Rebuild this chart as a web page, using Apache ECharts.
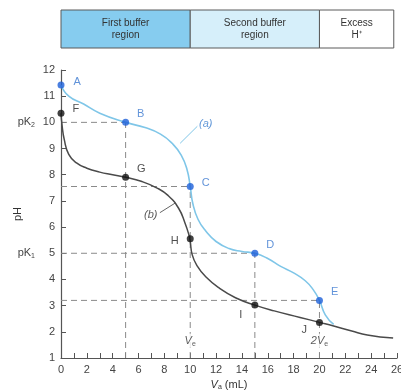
<!DOCTYPE html>
<html>
<head>
<meta charset="utf-8">
<script src="https://cdn.jsdelivr.net/npm/echarts@6/dist/echarts.min.js"></script>
<style>
  html, body { margin: 0; padding: 0; background: #fff; }
  #chart { width: 401px; height: 390px; }
</style>
</head>
<body>
<div id="chart"></div>
<script>
// Titration of a dibasic weak base with strong acid: pH vs. volume of acid added
const FONT = '"Liberation Sans", Arial, sans-serif';

// curve (a): pH vs Va (mL)
const curveA = [[0,11.43],[0.6,11.0],[1.75,10.7],[3,10.35],[5,10.0],[6.5,9.8],[7.7,9.55],[8.6,9.2],[9.3,8.75],[9.75,8.2],[10,7.55],[10.2,6.9],[10.6,6.3],[11.2,5.85],[12,5.45],[13,5.18],[14,5.07],[15,5.0],[16,4.8],[17,4.5],[18,4.25],[18.9,3.95],[19.5,3.62],[20,3.2],[20.45,2.65],[21.1,2.28]];
// curve (b)
const curveB = [[0,10.35],[0.08,9.9],[0.25,9.35],[0.6,8.78],[1.2,8.45],[2,8.25],[3,8.1],[4,8.0],[5,7.9],[6.2,7.75],[7.4,7.5],[8.3,7.2],[9.1,6.72],[9.6,6.15],[9.9,5.7],[10,5.45],[10.15,4.95],[10.5,4.55],[11.2,4.1],[12.3,3.65],[13.5,3.3],[15,3.02],[16.5,2.8],[18.5,2.55],[20,2.36],[21.1,2.22],[22.5,2.03],[23.7,1.88],[25.7,1.76]];

// labelled points
const pointsA = [['A',0,11.43],['B',5,10.0],['C',10,7.55],['D',15,5.0],['E',20,3.2]];
const pointsB = [['F',0,10.35],['G',5,7.9],['H',10,5.55],['I',15,3.02],['J',20,2.36]];

// header regions along the volume axis
const regions = [[0,10,'First buffer\nregion','#86ccef'],[10,20,'Second buffer\nregion','#d6effa'],[20,25.75,'Excess\nH\u207A','#ffffff']];

// curve name callouts: [label, label x, label y, leader from, leader to]
const callouts = [['(a)', 11.2, 9.93, [9.22,9.2],[10.55,9.85]], ['(b)', 6.95, 6.48, [7.65,6.55],[8.84,6.92]]];

// axis annotations
const volumeMarks = [['V','e',10,1.66],['2V','e',20,1.66]];

const guideStyle = { color: '#8a8a8a', width: 1, type: [6, 4] };

const series = [];

// dashed guides from the points of curve (a) to both axes
pointsA.slice(1).forEach(p => {
  series.push({ type: 'line', data: [[p[1],1],[p[1],p[2]]], symbol: 'none', lineStyle: guideStyle, silent: true, z: 1 });
  series.push({ type: 'line', data: [[0,p[2]],[p[1],p[2]]], symbol: 'none', lineStyle: guideStyle, silent: true, z: 1 });
});

series.push({ type: 'line', data: curveA, symbol: 'none', smooth: 0.5, lineStyle: { color: '#7fc6e8', width: 1.6 }, z: 2 });
series.push({ type: 'line', data: curveB, symbol: 'none', smooth: 0.5, lineStyle: { color: '#4a4a4a', width: 1.5 }, z: 3 });

callouts.forEach((c, i) => {
  series.push({ type: 'line', data: [c[3], c[4]], symbol: 'none', lineStyle: { color: i === 0 ? '#7fc6e8' : '#666', width: 1 }, z: 2 });
  series.push({ type: 'scatter', data: [[c[1], c[2]]], symbolSize: 0, z: 5,
    label: { show: true, position: 'inside', formatter: () => '{i|' + c[0] + '}',
      rich: { i: { fontFamily: FONT, fontSize: 11, fontStyle: 'italic', color: i === 0 ? '#3d7fd0' : '#333' } } } });
});

const labelPos = { A:[4,-3,'right'], B:[3,-8,'right'], C:[3,-4,'right'], D:[3,-8,'right'], E:[3,-8,'right'],
                   F:[3,-4,'right'], G:[3,-8,'right'], H:[-3,2,'left'], I:[-4,10,'left'], J:[-4,8,'left'] };

function pointSeries(pts, dot, txt) {
  return { type: 'scatter', z: 6, symbolSize: 7, itemStyle: { color: dot },
    data: pts.map(p => ({ value: [p[1], p[2]], name: p[0],
      label: { show: true, position: labelPos[p[0]][2], offset: [labelPos[p[0]][0], labelPos[p[0]][1]],
        formatter: p[0], color: txt, fontFamily: FONT, fontSize: 11 } })) };
}
series.push(pointSeries(pointsA, '#1d5fd8', '#3a78d0'));
series.push(pointSeries(pointsB, '#111', '#222'));

series.push({ type: 'scatter', symbolSize: 0, z: 5, data: volumeMarks.map(v => ({ value: [v[2], v[3]],
  label: { show: true, position: 'inside', backgroundColor: '#fff', padding: [1, 1, 0, 1],
    formatter: '{v|' + v[0] + '}{s|' + v[1] + '}',
    rich: { v: { fontFamily: FONT, fontSize: 11, fontStyle: 'italic', color: '#333' },
            s: { fontFamily: FONT, fontSize: 7, color: '#333', verticalAlign: 'bottom', padding: [6,0,0,0] } } } })) });

// header band
series.push({ type: 'custom', xAxisIndex: 1, yAxisIndex: 1, data: regions,
  renderItem: (params, api) => {
    const p0 = api.coord([api.value(0), 1]);
    const p1 = api.coord([api.value(1), 0]);
    const r = regions[params.dataIndex];
    return { type: 'group', children: [
      { type: 'rect', shape: { x: p0[0], y: p0[1], width: p1[0] - p0[0], height: p1[1] - p0[1] },
        style: { fill: r[3], stroke: '#5a5a5a', lineWidth: 1 } },
      { type: 'text', x: (p0[0] + p1[0]) / 2, y: (p0[1] + p1[1]) / 2,
        style: { text: r[2], fill: '#333', font: '10px ' + FONT, align: 'center', verticalAlign: 'middle', lineHeight: 12 } }
    ] };
  } });

const chart = echarts.init(document.getElementById('chart'), null, { renderer: 'canvas' });
chart.setOption({
  animation: false,
  backgroundColor: '#fff',
  grid: [
    { left: 61, right: 4, top: 70, bottom: 32, containLabel: false, outerBoundsMode: 'none' },
    { left: 61, right: 4, top: 10, height: 38, containLabel: false, outerBoundsMode: 'none' }
  ],
  xAxis: [
    { type: 'value', min: 0, max: 26, interval: 2, gridIndex: 0,
      axisLine: { lineStyle: { color: '#555', width: 1.2 } },
      axisTick: { show: true, inside: true, length: 5, lineStyle: { color: '#555' } },
      minorTick: { show: true, splitNumber: 2, length: 5, lineStyle: { color: '#555' } },
      splitLine: { show: false },
      axisLabel: { color: '#444', fontFamily: FONT, fontSize: 11, margin: 6 },
      name: '{v|V}{s|a} (mL)', nameLocation: 'middle', nameGap: 20, nameMoveOverlap: false,
      nameTextStyle: { rich: { v: { fontFamily: FONT, fontSize: 11, fontStyle: 'italic', color: '#333' },
        s: { fontFamily: FONT, fontSize: 7, color: '#333', verticalAlign: 'bottom', padding: [6,0,0,0] } }, fontFamily: FONT, fontSize: 11, color: '#333' } },
    { type: 'value', min: 0, max: 26, gridIndex: 1, show: false }
  ],
  yAxis: [
    { type: 'value', min: 1, max: 12, interval: 1, gridIndex: 0,
      axisLine: { show: true, lineStyle: { color: '#555', width: 1.2 } },
      axisTick: { show: true, inside: true, length: 5, lineStyle: { color: '#555' } },
      splitLine: { show: false },
      axisLabel: { margin: 6, color: '#444', fontFamily: FONT, fontSize: 11,
        formatter: v => v === 10 ? '{p|pK}{k|2}{n|10}' : v === 5 ? '{p|pK}{k|1}{n|5}' : '' + v,
        rich: { p: { color: '#444', fontFamily: FONT, fontSize: 11 },
                k: { color: '#444', fontFamily: FONT, fontSize: 7, verticalAlign: 'bottom', padding: [6,0,0,0] },
                n: { color: '#444', fontFamily: FONT, fontSize: 11, width: 20, align: 'right' } } },
      name: 'pH', nameLocation: 'middle', nameRotate: 90, nameGap: 38, nameMoveOverlap: false,
      nameTextStyle: { fontFamily: FONT, fontSize: 11, color: '#333' } },
    { type: 'value', min: 0, max: 1, gridIndex: 1, show: false }
  ],
  series: series
});
</script>
</body>
</html>
